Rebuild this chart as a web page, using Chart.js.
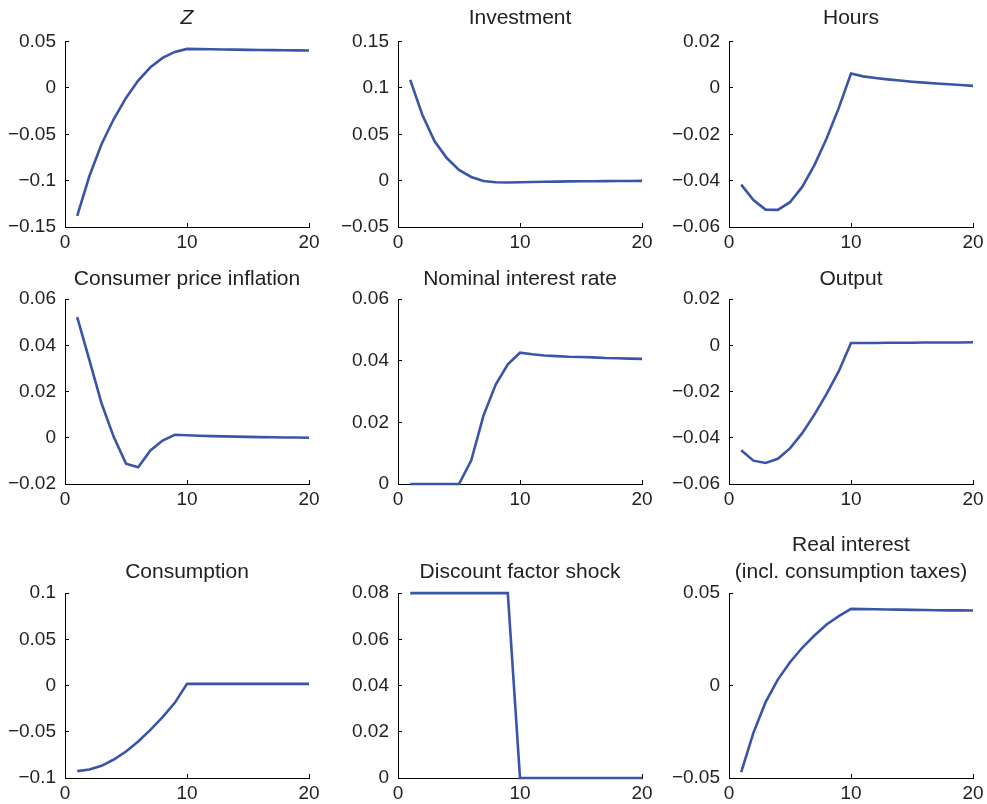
<!DOCTYPE html>
<html>
<head>
<meta charset="utf-8">
<script src="https://cdn.jsdelivr.net/npm/chart.js@4/dist/chart.umd.min.js"></script>
<style>
  html, body { margin: 0; padding: 0; background: #fff; }
  body { width: 987px; height: 804px; position: relative; overflow: hidden; }
  .panel { position: absolute; }
  .panel canvas { display: block; }
</style>
</head>
<body>
<script>
// Impulse responses over 20 periods
const periods = [1, 2, 3, 4, 5, 6, 7, 8, 9, 10, 11, 12, 13, 14, 15, 16, 17, 18, 19, 20];

const zPath = [-0.138, -0.095, -0.0604, -0.0335, -0.0108, 0.0079, 0.0223, 0.0324, 0.0389, 0.0421,
               0.0419, 0.0417, 0.0415, 0.0413, 0.0411, 0.041, 0.0408, 0.0407, 0.0405, 0.0404];
const investment = [0.1087, 0.0709, 0.0425, 0.0244, 0.0116, 0.004, -0.0004, -0.0018, -0.002, -0.0018,
                    -0.0015, -0.0012, -0.001, -0.0008, -0.0007, -0.0006, -0.0005, -0.0004, -0.0003, -0.0002];
const hours = [-0.0417, -0.0484, -0.0525, -0.0526, -0.0493, -0.0427, -0.0333, -0.0218, -0.0086, 0.0062,
               0.005, 0.0043, 0.0037, 0.0032, 0.0027, 0.0023, 0.0019, 0.0016, 0.0013, 0.0009];
const cpiInflation = [0.0522, 0.0336, 0.0148, 0.0003, -0.0112, -0.0128, -0.0055, -0.0012, 0.0013, 0.0011,
                      0.0009, 0.0007, 0.0006, 0.0005, 0.0004, 0.0003, 0.0002, 0.0001, 0.0001, 0.0];
const nominalRate = [0, 0, 0, 0, 0, 0.0076, 0.0221, 0.0322, 0.0388, 0.0426,
                     0.0421, 0.0417, 0.0415, 0.0413, 0.0412, 0.0411, 0.0409, 0.0408, 0.0407, 0.0406];
const output = [-0.0454, -0.0499, -0.0509, -0.0491, -0.0446, -0.038, -0.030, -0.021, -0.0112, 0.001,
                0.001, 0.001, 0.0011, 0.0011, 0.0011, 0.0012, 0.0012, 0.0012, 0.0012, 0.0013];
const consumption = [-0.0926, -0.0908, -0.0868, -0.080, -0.0714, -0.0605, -0.0479, -0.0342, -0.0187, 0.0018,
                     0.0018, 0.0018, 0.0018, 0.0018, 0.0018, 0.0018, 0.0018, 0.0018, 0.0018, 0.0018];
const discountShock = [0.08, 0.08, 0.08, 0.08, 0.08, 0.08, 0.08, 0.08, 0.08, 0,
                       0, 0, 0, 0, 0, 0, 0, 0, 0, 0];
const realInterest = [-0.0468, -0.0256, -0.009, 0.0032, 0.0126, 0.0204, 0.027, 0.033, 0.0375, 0.0414,
                      0.0413, 0.0412, 0.0411, 0.041, 0.0409, 0.0408, 0.0407, 0.0406, 0.0406, 0.0405];

// Axis ticks
const xTicks = [0, 10, 20];
const zTicks = [-0.15, -0.1, -0.05, 0, 0.05];
const investmentTicks = [-0.05, 0, 0.05, 0.1, 0.15];
const hoursTicks = [-0.06, -0.04, -0.02, 0, 0.02];
const cpiTicks = [-0.02, 0, 0.02, 0.04, 0.06];
const nominalTicks = [0, 0.02, 0.04, 0.06];
const outputTicks = [-0.06, -0.04, -0.02, 0, 0.02];
const consumptionTicks = [-0.1, -0.05, 0, 0.05, 0.1];
const discountTicks = [0, 0.02, 0.04, 0.06, 0.08];
const realTicks = [-0.05, 0, 0.05];

// Panel titles
const titles = [
  'Z', 'Investment', 'Hours',
  'Consumer price inflation', 'Nominal interest rate', 'Output',
  'Consumption', 'Discount factor shock', ['Real interest', '(incl. consumption taxes)']
];
const seriesList = [zPath, investment, hours, cpiInflation, nominalRate, output, consumption, discountShock, realInterest];
const tickList = [zTicks, investmentTicks, hoursTicks, cpiTicks, nominalTicks, outputTicks, consumptionTicks, discountTicks, realTicks];

// Grid geometry (plot-area edges in page pixels)
const colLeft = [65, 398, 729];
const plotW = 244;
const rowTop = [42, 299, 593];
const plotH = 185;
const titleGap = [23, 19.5, 20.5];   // plot top minus centre of the last title line
const yAxisW = 65;
const xAxisH = 32;
const padRight = 22;

const FONT = '"Liberation Sans", Arial, Helvetica, sans-serif';
const TEXT = '#222';
const LINE = '#3a55a8';
const TITLE_SIZE = 21;
const TICK_SIZE = 19;

function fmt(v) {
  const s = String(Math.round(v * 10000) / 10000);
  return s.replace('-', '\u2212');
}

titles.forEach((title, i) => {
  const row = Math.floor(i / 3), col = i % 3;
  const lines = Array.isArray(title) ? title.length : 1;
  const lh = lines > 1 ? 27 / TITLE_SIZE : 1.2;
  const lhPx = TITLE_SIZE * lh;
  const padTop = 2;
  const padBottom = titleGap[row] - lhPx / 2;
  const titleBlock = padTop + lines * lhPx + padBottom;

  const left = colLeft[col] - yAxisW;
  const top = rowTop[row] - titleBlock;
  const width = yAxisW + plotW + padRight;
  const height = Math.round(titleBlock + plotH + xAxisH);

  const wrap = document.createElement('div');
  wrap.className = 'panel';
  wrap.style.left = left + 'px';
  wrap.style.top = top + 'px';
  wrap.style.width = width + 'px';
  wrap.style.height = height + 'px';
  const canvas = document.createElement('canvas');
  canvas.width = width;
  canvas.height = height;
  wrap.appendChild(canvas);
  document.body.appendChild(wrap);

  const yTicks = tickList[i];
  const values = seriesList[i];

  new Chart(canvas, {
    type: 'line',
    data: {
      datasets: [{
        data: periods.map((p, k) => ({ x: p, y: values[k] })),
        borderColor: LINE,
        borderWidth: 2.6,
        pointRadius: 0,
        tension: 0,
        fill: false,
        clip: false
      }]
    },
    options: {
      responsive: false,
      animation: false,
      devicePixelRatio: 1,
      layout: { padding: { top: 0, left: 0, right: padRight, bottom: 0 } },
      plugins: {
        legend: { display: false },
        tooltip: { enabled: false },
        title: {
          display: true,
          fullSize: false,
          text: title,
          color: TEXT,
          font: { family: FONT, size: TITLE_SIZE, weight: 'normal', style: i === 0 ? 'italic' : 'normal', lineHeight: lh },
          padding: { top: padTop, bottom: padBottom }
        }
      },
      scales: {
        x: {
          type: 'linear',
          min: xTicks[0],
          max: xTicks[xTicks.length - 1],
          afterBuildTicks: s => { s.ticks = xTicks.map(v => ({ value: v })); },
          afterFit: s => { s.height = xAxisH; },
          grid: { drawOnChartArea: false, drawTicks: true, tickLength: -4, color: '#000', lineWidth: 1 },
          border: { color: '#000', width: 1 },
          ticks: { color: TEXT, font: { family: FONT, size: TICK_SIZE }, padding: 8, maxRotation: 0, autoSkip: false, callback: v => fmt(v) }
        },
        y: {
          type: 'linear',
          min: yTicks[0],
          max: yTicks[yTicks.length - 1],
          afterBuildTicks: s => { s.ticks = yTicks.map(v => ({ value: v })); },
          afterFit: s => { s.width = yAxisW; },
          grid: { drawOnChartArea: false, drawTicks: true, tickLength: -4, color: '#000', lineWidth: 1 },
          border: { color: '#000', width: 1 },
          ticks: { color: TEXT, font: { family: FONT, size: TICK_SIZE }, padding: 13, autoSkip: false, callback: v => fmt(v) }
        }
      }
    }
  });
});
</script>
</body>
</html>
